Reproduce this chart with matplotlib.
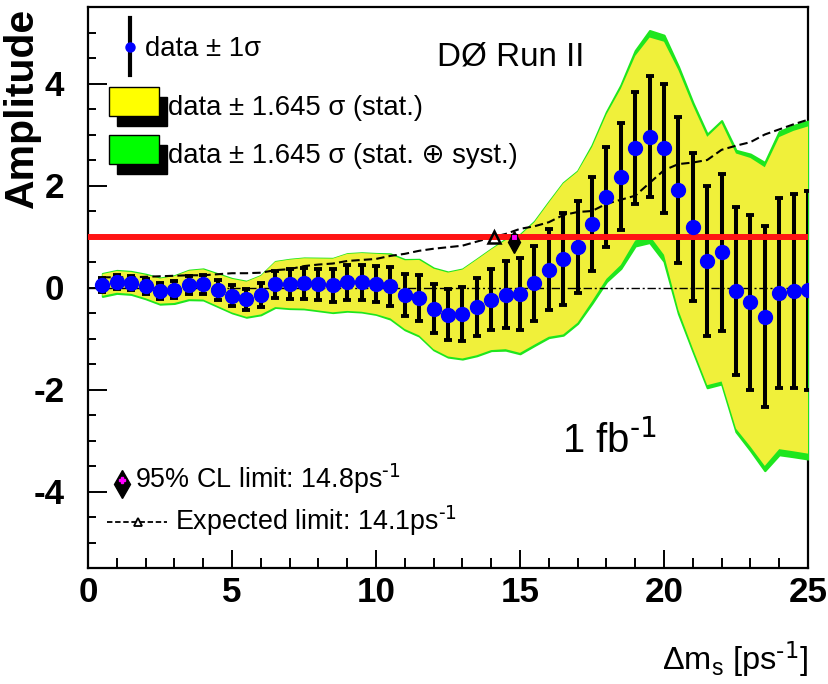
import numpy as np
import matplotlib
matplotlib.use("Agg")
import matplotlib.pyplot as plt
import matplotlib.font_manager as fm
from matplotlib.patches import Rectangle
from matplotlib.ticker import MultipleLocator

# ---------------- data ----------------
dms = [0.5, 1.0, 1.5, 2.0, 2.5, 3.0, 3.5, 4.0, 4.5, 5.0,
       5.5, 6.0, 6.5, 7.0, 7.5, 8.0, 8.5, 9.0, 9.5, 10.0,
       10.5, 11.0, 11.5, 12.0, 12.5, 13.0, 13.5, 14.0, 14.5, 15.0,
       15.5, 16.0, 16.5, 17.0, 17.5, 18.0, 18.5, 19.0, 19.5, 20.0,
       20.5, 21.0, 21.5, 22.0, 22.5, 23.0, 23.5, 24.0, 24.5, 25.0]
amp = [0.05, 0.11, 0.09, 0.02, -0.07, -0.04, 0.05, 0.06, -0.05, -0.16,
       -0.23, -0.15, 0.06, 0.07, 0.08, 0.06, 0.04, 0.10, 0.10, 0.07,
       0.02, -0.14, -0.20, -0.42, -0.53, -0.52, -0.39, -0.24, -0.14, -0.13,
       0.08, 0.35, 0.56, 0.79, 1.24, 1.78, 2.17, 2.73, 2.96, 2.73,
       1.91, 1.19, 0.52, 0.69, -0.07, -0.29, -0.57, -0.11, -0.07, -0.05]
sig_stat = [0.13, 0.13, 0.13, 0.14, 0.15, 0.16, 0.17, 0.18, 0.19, 0.20,
            0.21, 0.23, 0.27, 0.29, 0.30, 0.31, 0.32, 0.34, 0.35, 0.36,
            0.38, 0.41, 0.45, 0.48, 0.50, 0.53, 0.57, 0.60, 0.65, 0.70,
            0.73, 0.80, 0.90, 0.90, 0.92, 0.98, 1.05, 1.10, 1.18, 1.27,
            1.43, 1.45, 1.48, 1.54, 1.64, 1.72, 1.78, 1.86, 1.91, 1.95]
sig_syst = [0.04, 0.04, 0.04, 0.04, 0.04, 0.04, 0.04, 0.04, 0.04, 0.04,
            0.04, 0.04, 0.04, 0.04, 0.04, 0.04, 0.04, 0.04, 0.04, 0.04,
            0.08, 0.08, 0.08, 0.08, 0.08, 0.08, 0.08, 0.08, 0.12, 0.12,
            0.12, 0.12, 0.12, 0.12, 0.20, 0.25, 0.30, 0.38, 0.45, 0.45,
            0.35, 0.30, 0.30, 0.30, 0.35, 0.40, 0.45, 0.50, 0.50, 0.50]
sens = [0.20, 0.20, 0.20, 0.21, 0.22, 0.23, 0.24, 0.24, 0.26, 0.28,
        0.28, 0.29, 0.34, 0.36, 0.42, 0.45, 0.47, 0.52, 0.54, 0.56,
        0.62, 0.66, 0.72, 0.76, 0.79, 0.82, 0.90, 0.98, 1.05, 1.15,
        1.20, 1.28, 1.42, 1.48, 1.50, 1.64, 1.72, 1.80, 2.05, 2.30,
        2.42, 2.45, 2.50, 2.70, 2.78, 2.85, 3.00, 3.10, 3.20, 3.29]
cl_limit = 14.8
exp_limit = 14.1
amp_ref = 1.0
xticks = [0, 5, 10, 15, 20, 25]
yticks = [-4, -2, 0, 2, 4]
xlim = (0, 25)
ylim = (-5.5, 5.5)

# ---------------- fonts ----------------
names = {f.name for f in fm.fontManager.ttflist}
FONT = None
for cand in ['Liberation Sans Narrow', 'Arial Narrow', 'Nimbus Sans Narrow']:
    if cand in names:
        FONT = cand
        break
k = 1.0
if FONT is None:
    FONT = 'Liberation Sans'
    k = 0.9
plt.rcParams['font.family'] = [FONT, 'DejaVu Sans']
plt.rcParams['mathtext.default'] = 'regular'
plt.rcParams['axes.unicode_minus'] = False

W, H = 829, 684
fig = plt.figure(figsize=(W / 100, H / 100), dpi=100)
L, R, T, B = 88, 808, 7, 568
ax = fig.add_axes([L / W, 1 - B / H, (R - L) / W, (B - T) / H])


def fx(px):
    return (px - L) / (R - L)


def fy(py):
    return (B - py) / (B - T)


a = np.array(amp)
s = np.array(sig_stat)
st = np.sqrt(s ** 2 + np.array(sig_syst) ** 2)

YEL = '#f0f03a'
GRN = '#1ee61e'
ax.fill_between(dms, a - 1.645 * st, a + 1.645 * st, facecolor=GRN,
                edgecolor=GRN, lw=1.6, zorder=1)
ax.fill_between(dms, a - 1.645 * s, a + 1.645 * s, facecolor=YEL,
                lw=0, zorder=1.1)

ax.plot(dms, sens, color='k', ls=(0, (4, 2)), lw=1.5, zorder=2)
ax.axhline(0, color='k', lw=1.0, ls=(0, (6, 2, 1.5, 2)), zorder=2)

ax.errorbar(dms, amp, yerr=sig_stat, fmt='none', ecolor='k', elinewidth=2.9,
            capsize=3.2, capthick=2.8, zorder=3)
ax.axhline(amp_ref, color='#ff1414', lw=4.3, zorder=3.5)
ax.plot(dms, amp, 'o', color='#0000ff', ms=10, mec='#0000ff', zorder=4)

# limit markers
ax.plot([exp_limit], [amp_ref], marker='^', ms=8, mfc='none', mec='k',
        mew=1.8, zorder=5)
ax.plot([cl_limit], [amp_ref - 0.1], marker='d', ms=11, color='k', zorder=5)
ax.plot([cl_limit], [amp_ref], marker='s', ms=5, mfc='#ff00ff', mec='k',
        mew=0.8, zorder=6)

# axes styling
ax.set_xlim(*xlim)
ax.set_ylim(*ylim)
ax.set_xticks(xticks)
ax.set_yticks(yticks)
ax.xaxis.set_minor_locator(MultipleLocator(1))
ax.yaxis.set_minor_locator(MultipleLocator(0.5))
ax.tick_params(which='both', direction='in', top=False, right=False, width=1.4)
ax.tick_params(axis='x', which='major', length=13, pad=6)
ax.tick_params(axis='x', which='minor', length=7)
ax.tick_params(axis='y', which='major', length=14, pad=17)
ax.tick_params(axis='y', which='minor', length=6)
for lab in ax.get_xticklabels() + ax.get_yticklabels():
    lab.set_fontsize(28 * k)
    lab.set_fontweight('bold')
for sp in ax.spines.values():
    sp.set_linewidth(1.6)
ax.spines['right'].set_zorder(0.5)

SUP = r'$^{\text{-1}}$'

# labels
fig.text(22 / W, 1 - 8 / H, 'Amplitude', rotation=90, ha='center', va='top',
         fontsize=29.5, fontweight='bold', family=['Liberation Sans', 'DejaVu Sans'])
fig.text(R / W, 1 - 660 / H, r'$\Delta$m$_s$ [ps' + SUP + ']', ha='right',
         va='center', fontsize=26 * k)

# top-left legend
tr = ax.transAxes
ax.plot([fx(130)] * 2, [fy(18), fy(75)], transform=tr, color='k', lw=3,
        zorder=7, clip_on=False)
ax.plot([fx(130)], [fy(47)], 'o', transform=tr, color='#0000ff', ms=6.5,
        zorder=8, clip_on=False)
ax.text(fx(145), fy(56), 'data \u00b1 1\u03c3', transform=tr, va='baseline',
        ha='left', fontsize=22 * k, zorder=8)
for (top, col, txt) in [(87, '#ffff00', 'data \u00b1 1.645 \u03c3 (stat.)'),
                        (135, '#00ff00', 'data \u00b1 1.645 \u03c3 (stat. \u2295 syst.)')]:
    ax.add_patch(Rectangle((fx(117), fy(top + 39)), 50 / (R - L), 29 / (B - T),
                           transform=tr, facecolor='k', edgecolor='k', zorder=7))
    ax.add_patch(Rectangle((fx(109), fy(top + 29)), 50 / (R - L), 29 / (B - T),
                           transform=tr, facecolor=col, edgecolor='k', lw=1,
                           zorder=7.5))
    ax.text(fx(168), fy(top + 28), txt, transform=tr, va='baseline', ha='left',
            fontsize=22 * k, zorder=8)

ax.text(fx(437), fy(66), 'D\u00d8 Run II', transform=tr, va='baseline',
        ha='left', fontsize=26.5 * k, zorder=8)
ax.text(fx(562), fy(453), '1 fb' + SUP, transform=tr, va='baseline',
        ha='left', fontsize=32 * k, zorder=8)

# bottom legend
ax.plot([fx(122)], [fy(484)], marker='d', ms=14, color='k', transform=tr,
        zorder=8, clip_on=False)
ax.plot([fx(122)], [fy(480)], marker='P', ms=5, color='#ff00ff', transform=tr,
        zorder=9, clip_on=False)
ax.text(fx(135), fy(488), '95% CL limit: 14.8ps' + SUP, transform=tr,
        va='baseline', ha='left', fontsize=21.5 * k, zorder=8)
ax.plot([fx(107), fx(167)], [fy(522)] * 2, transform=tr, color='k', lw=1.3,
        ls=(0, (3, 1.5)), zorder=8)
ax.plot([fx(138)], [fy(522)], marker='^', ms=6, mfc='white', mec='k', mew=1.3,
        transform=tr, zorder=9)
ax.text(fx(175), fy(530), 'Expected limit: 14.1ps' + SUP, transform=tr,
        va='baseline', ha='left', fontsize=21.5 * k, zorder=8)

fig.savefig('out.png', dpi=100)
